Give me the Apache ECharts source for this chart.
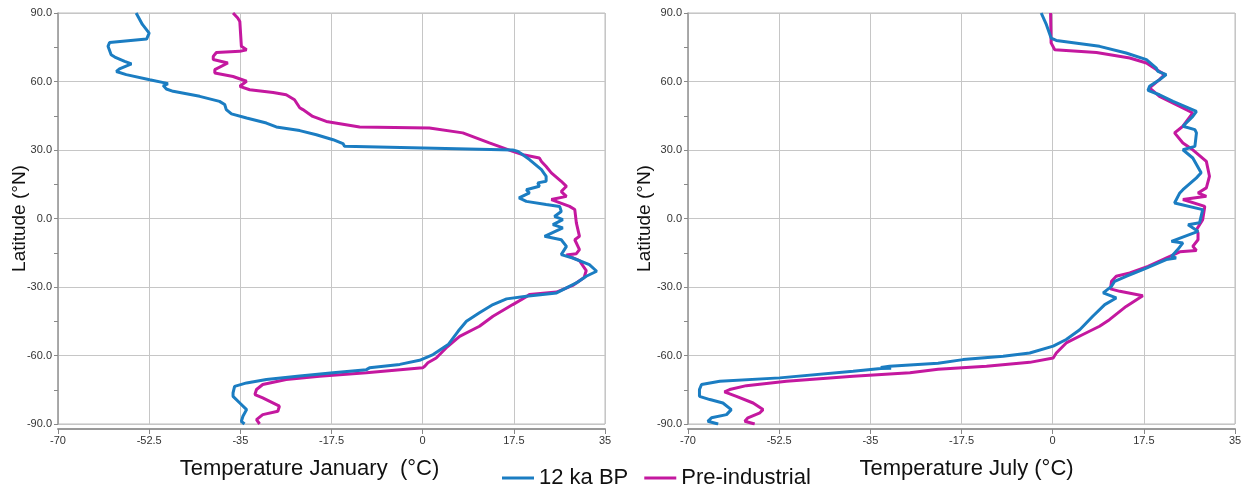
<!DOCTYPE html>
<html>
<head>
<meta charset="utf-8">
<title>Temperature vs latitude</title>
<script src="https://cdn.jsdelivr.net/npm/echarts@6/dist/echarts.min.js"></script>
<style>
  html, body { margin: 0; padding: 0; background: #fff; }
  #chart { width: 1246px; height: 488px; }
</style>
</head>
<body>
<div id="chart"></div>
<script>
// [温度 °C, 纬度 °N]，从北极到南极读取
const jan12ka = [
  [-55.0, 90], [-53.8, 85], [-52.5, 81.2], [-53.0, 78.6], [-60.1, 77.1], [-60.4, 75.4],
  [-59.8, 71.7], [-59.1, 70.7], [-57.2, 68.8], [-55.9, 67.7], [-58.2, 65.5], [-58.8, 64.4],
  [-56.9, 63.0], [-52.4, 60.8], [-49.5, 59.4], [-48.9, 59.0], [-49.8, 58.2], [-49.2, 56.7],
  [-47.9, 55.7], [-42.8, 53.5], [-39.0, 51.3], [-38.0, 49.9], [-37.7, 47.7], [-36.7, 45.8],
  [-33.8, 44.0], [-30.0, 41.8], [-28.1, 40.1], [-23.6, 38.5], [-20.4, 36.7], [-17.2, 34.5],
  [-15.3, 32.8], [-15.0, 31.6], [17.3, 30.0], [18.3, 29.4], [20.5, 25.8], [22.8, 21.4],
  [23.7, 18.5], [23.7, 16.3], [22.1, 15.6], [22.4, 14.1], [19.9, 12.6], [20.5, 11.2],
  [18.5, 9.0], [19.9, 7.5], [23.7, 6.1], [26.3, 5.3], [26.6, 3.1], [25.3, 0.9],
  [26.9, -0.5], [25.0, -2.7], [26.9, -4.1], [23.4, -7.8], [26.6, -9.3], [27.6, -12.2],
  [26.6, -15.8], [28.8, -17.3], [32.0, -20.2], [33.4, -23.1], [31.4, -25.3], [29.5, -28.2],
  [25.7, -32.6], [19.9, -34.1], [16.1, -35.2], [13.5, -37.7], [10.9, -41.3], [8.4, -45.0],
  [6.8, -49.4], [4.9, -55.2], [2.0, -59.6], [-0.6, -62.1], [-4.4, -63.9], [-10.2, -65.4],
  [-10.8, -66.2], [-17.2, -67.6], [-23.6, -69.0], [-30.0, -70.5], [-33.8, -72.0],
  [-36.1, -73.5], [-36.4, -76.4], [-36.4, -77.9], [-35.1, -80.8], [-33.8, -83.7],
  [-34.5, -86.6], [-34.8, -88.8], [-34.2, -90]
];

const janPre = [
  [-36.4, 90], [-35.5, 87.8], [-35.1, 86.3], [-34.8, 75.4], [-33.8, 73.9], [-35.1, 73.2],
  [-39.6, 72.7], [-40.2, 71.0], [-40.2, 69.6], [-37.4, 68.1], [-39.9, 65.2], [-39.9, 63.7],
  [-36.4, 62.2], [-33.8, 60.1], [-35.1, 57.9], [-33.2, 56.4], [-28.7, 55.2], [-26.2, 54.2],
  [-24.6, 52.0], [-23.6, 48.5], [-23.0, 47.7], [-21.1, 44.7], [-18.5, 42.5], [-12.1, 40.1],
  [1.3, 39.6], [7.7, 37.5], [12.8, 33.1], [17.3, 29.4], [19.3, 27.9], [22.4, 26.5],
  [22.8, 25.0], [23.7, 22.8], [24.7, 20.0], [26.6, 16.3], [27.6, 14.1], [26.6, 11.8],
  [27.6, 9.7], [24.7, 8.3], [28.2, 5.3], [29.2, 3.9], [29.5, -1.9], [30.1, -7.8],
  [29.2, -9.3], [30.1, -13.6], [29.5, -15.4], [27.6, -16.0], [30.1, -18.5], [31.4, -22.8],
  [31.0, -25.8], [28.8, -29.3], [25.7, -32.2], [20.5, -33.3], [19.9, -34.3], [17.3, -37.7],
  [13.5, -42.8], [10.9, -47.2], [7.1, -51.6], [4.5, -56.7], [2.6, -61.1], [1.0, -63.2],
  [0.4, -64.7], [0.0, -65.4], [-10.8, -67.6], [-19.8, -69.1], [-26.2, -70.5],
  [-30.7, -72.7], [-31.9, -74.9], [-32.2, -77.1], [-30.7, -78.6], [-27.5, -82.2],
  [-27.8, -84.4], [-30.7, -85.9], [-31.9, -88.1], [-31.6, -88.8], [-31.3, -90]
];

const jul12ka = [
  [-2.2, 90], [-1.2, 84.9], [-0.3, 79.0], [0.7, 78.0], [9.0, 75.4], [14.1, 72.5],
  [18.0, 69.6], [19.9, 65.9], [20.2, 64.4], [21.8, 63.0], [20.5, 60.8], [18.6, 57.9],
  [18.3, 56.1], [20.5, 54.2], [23.1, 51.3], [27.6, 46.9], [26.9, 44.7], [25.0, 40.4],
  [27.3, 38.9], [27.6, 37.5], [27.3, 31.6], [25.0, 30.1], [26.9, 26.5], [28.5, 20.0],
  [27.6, 17.8], [25.0, 12.6], [24.4, 11.2], [23.4, 6.8], [28.8, 3.9], [28.2, -1.9],
  [26.0, -2.7], [27.9, -5.6], [22.8, -10.0], [25.0, -10.7], [24.0, -13.6], [22.8, -16.6],
  [23.7, -17.3], [21.8, -18.0], [17.3, -22.4], [14.1, -25.3], [11.9, -27.5], [11.3, -29.7],
  [9.7, -32.6], [12.2, -34.8], [10.0, -37.7], [7.7, -42.8], [5.2, -48.7], [2.6, -53.0],
  [0.1, -55.9], [-4.4, -58.9], [-9.5, -60.3], [-17.2, -61.8], [-22.0, -63.4],
  [-31.3, -64.7], [-33.0, -65.3], [-31.0, -65.6], [-33.0, -65.7], [-38.3, -66.9],
  [-52.4, -69.8], [-63.9, -71.3], [-67.4, -72.7], [-67.8, -74.9], [-67.8, -77.9],
  [-65.8, -79.3], [-63.3, -80.8], [-61.7, -83.7], [-62.6, -85.9], [-65.5, -87.3],
  [-66.2, -88.8], [-64.2, -90]
];

const julPre = [
  [-0.4, 90], [-0.3, 76.9], [0.4, 73.9], [8.4, 72.7], [14.8, 70.3], [18.0, 68.1],
  [19.9, 65.2], [21.5, 63.0], [20.5, 60.8], [18.6, 57.2], [20.5, 53.5], [24.4, 49.1],
  [26.9, 46.2], [25.0, 40.4], [23.4, 37.5], [25.0, 33.1], [26.9, 30.1], [29.5, 25.0],
  [30.1, 18.5], [29.5, 13.4], [27.9, 11.2], [29.5, 9.7], [25.0, 8.3], [29.2, 5.3],
  [28.8, -0.5], [27.6, -4.9], [27.9, -6.3], [27.9, -9.3], [26.9, -12.2], [27.6, -14.0],
  [24.4, -14.6], [22.5, -16.6], [18.3, -21.0], [14.8, -23.8], [12.2, -25.3], [11.3, -27.5],
  [11.1, -30.8], [12.9, -31.9], [17.3, -33.8], [14.1, -38.5], [10.9, -44.3], [9.0, -47.2],
  [5.8, -50.8], [2.6, -54.5], [0.7, -58.9], [0.1, -61.1], [-4.4, -63.0], [-12.7, -64.7],
  [-22.0, -66.0], [-27.4, -67.6], [-38.3, -69.1], [-51.1, -71.3], [-58.8, -73.2],
  [-62.0, -74.9], [-63.0, -75.9], [-60.7, -77.9], [-57.5, -80.8], [-55.6, -83.7],
  [-56.2, -85.1], [-58.5, -87.3], [-59.1, -88.8], [-57.2, -90]
];

const tempTicks = { min: -70, max: 35, interval: 17.5 };
const latTicks = { min: -90, max: 90, interval: 30 };

const blue = '#1b7dc2';
const magenta = '#c4189f';
const font = 'Liberation Sans, Arial, sans-serif';

function xAxisFor(gridIndex, name, pad) {
    return {
        gridIndex: gridIndex,
        type: 'value',
        min: tempTicks.min,
        max: tempTicks.max,
        interval: tempTicks.interval,
        offset: 5,
        name: name,
        nameLocation: 'middle',
        nameGap: 29,
        nameMoveOverlap: false,
        nameTextStyle: { fontSize: 22, color: '#111', fontFamily: font, padding: pad },
        axisLine: { show: true, onZero: false, lineStyle: { color: '#9a9a9a', width: 2 } },
        axisTick: { show: true, length: 5, lineStyle: { color: '#888' } },
        axisLabel: { fontSize: 11, color: '#333', fontFamily: font, margin: 6,
                     formatter: v => String(v) },
        splitLine: { show: true, lineStyle: { color: '#c6c6c6', width: 1 } }
    };
}

function yAxisFor(gridIndex, gap) {
    return {
        gridIndex: gridIndex,
        type: 'value',
        min: latTicks.min,
        max: latTicks.max,
        interval: latTicks.interval,
        name: 'Latitude (°N)',
        nameLocation: 'middle',
        nameGap: gap,
        nameMoveOverlap: false,
        nameTextStyle: { fontSize: 19, color: '#111', fontFamily: font },
        axisLine: { show: true, onZero: false, lineStyle: { color: '#9a9a9a', width: 1.5 } },
        axisTick: { show: true, length: 4, lineStyle: { color: '#888' } },
        minorTick: { show: true, splitNumber: 2, length: 4, lineStyle: { color: '#888' } },
        axisLabel: { fontSize: 11, color: '#333', fontFamily: font, margin: 6,
                     formatter: v => v.toFixed(1) },
        splitLine: { show: true, lineStyle: { color: '#c6c6c6', width: 1 } }
    };
}

function lineFor(name, data, color, idx) {
    return {
        name: name,
        type: 'line',
        xAxisIndex: idx,
        yAxisIndex: idx,
        data: data,
        showSymbol: false,
        symbol: 'none',
        lineStyle: { color: color, width: 3 },
        itemStyle: { color: color },
        animation: false
    };
}

const chart = echarts.init(document.getElementById('chart'));
chart.setOption({
    backgroundColor: '#fff',
    animation: false,
    grid: [
        { left: 58, top: 13, width: 547, height: 411, show: true, borderColor: '#bdbdbd', borderWidth: 1 },
        { left: 688, top: 13, width: 547, height: 411, show: true, borderColor: '#bdbdbd', borderWidth: 1 }
    ],
    xAxis: [
        xAxisFor(0, 'Temperature January  (°C)', [0, 44, 0, 0]),
        xAxisFor(1, 'Temperature July (°C)', [0, 0, 0, 10])
    ],
    yAxis: [yAxisFor(0, 29), yAxisFor(1, 34)],
    legend: {
        left: 497,
        top: 462,
        itemWidth: 32,
        itemHeight: 3,
        itemGap: 16,
        icon: 'rect',
        textStyle: { fontSize: 22, color: '#111', fontFamily: font },
        data: ['12 ka BP', 'Pre-industrial']
    },
    series: [
        lineFor('Pre-industrial', janPre, magenta, 0),
        lineFor('12 ka BP', jan12ka, blue, 0),
        lineFor('Pre-industrial', julPre, magenta, 1),
        lineFor('12 ka BP', jul12ka, blue, 1)
    ]
});
</script>
</body>
</html>
